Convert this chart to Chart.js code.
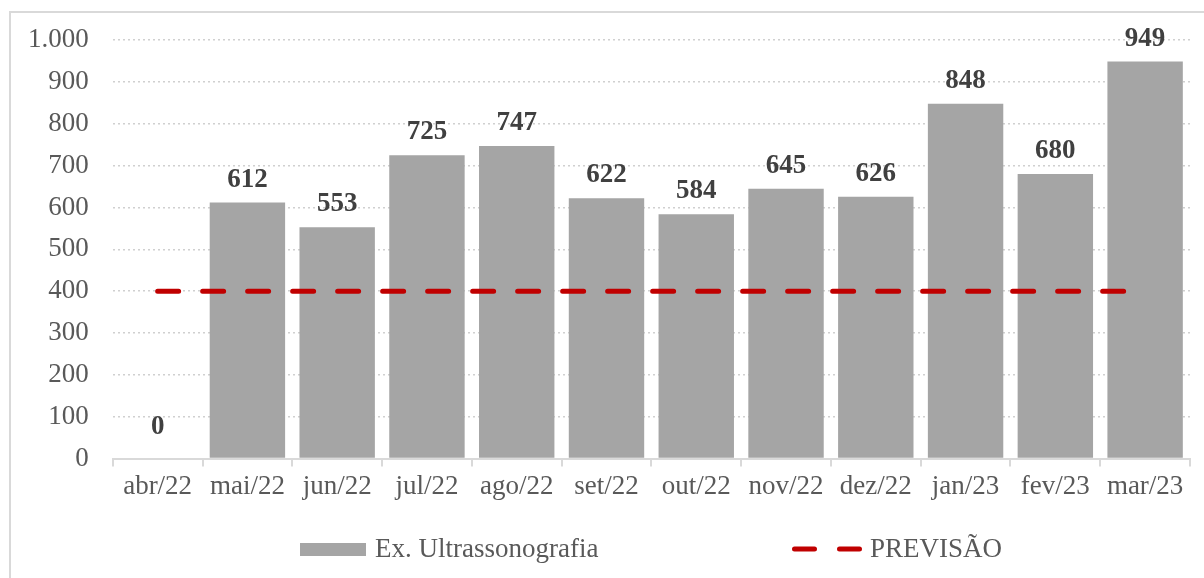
<!DOCTYPE html>
<html>
<head>
<meta charset="utf-8">
<script src="https://cdn.jsdelivr.net/npm/chart.js@4/dist/chart.umd.min.js"></script>
<style>
  html, body { margin: 0; padding: 0; background: #fff; overflow: hidden; }
  #frame { position: absolute; left: 9px; top: 11px; width: 1210px; height: 590px; border: 2px solid #d9d9d9; }
  #wrap { position: absolute; left: 0; top: 0; width: 1204px; height: 578px; }
</style>
</head>
<body>
<div id="frame"></div>
<div id="wrap"><canvas id="myChart"></canvas></div>
<script>
let months = ['abr/22', 'mai/22', 'jun/22', 'jul/22', 'ago/22', 'set/22', 'out/22', 'nov/22', 'dez/22', 'jan/23', 'fev/23', 'mar/23'];
let exames = [0, 612, 553, 725, 747, 622, 584, 645, 626, 848, 680, 949];
let previsao = [400, 400, 400, 400, 400, 400, 400, 400, 400, 400, 400, 400];

const serif = '"Liberation Serif", "Times New Roman", serif';

// value labels above the bars
const barLabels = {
    id: 'barLabels',
    afterDatasetsDraw(chart) {
        const ctx = chart.ctx;
        const meta = chart.getDatasetMeta(1);
        ctx.save();
        ctx.font = 'bold 27px ' + serif;
        ctx.fillStyle = '#404040';
        ctx.textAlign = 'center';
        ctx.textBaseline = 'alphabetic';
        meta.data.forEach((bar, i) => {
            let off = exames[i] === 0 ? 25 : 16;
            ctx.fillText(exames[i], bar.x, bar.y - off);
        });
        ctx.restore();
    }
};

// legend drawn by hand so the dashed line shows right
const bottomLegend = {
    id: 'bottomLegend',
    afterDraw(chart) {
        const ctx = chart.ctx;
        const y = 549;
        ctx.save();
        ctx.fillStyle = '#a5a5a5';
        ctx.fillRect(300, 543, 66, 13);
        ctx.font = '27px ' + serif;
        ctx.fillStyle = '#595959';
        ctx.textBaseline = 'alphabetic';
        ctx.fillText('Ex. Ultrassonografia', 375, 557);

        ctx.strokeStyle = '#c00000';
        ctx.lineWidth = 5;
        ctx.lineCap = 'round';
        ctx.beginPath();
        ctx.moveTo(794.5, y); ctx.lineTo(814.5, y);
        ctx.moveTo(839.5, y); ctx.lineTo(859.5, y);
        ctx.stroke();
        ctx.fillText('PREVISÃO', 870, 557);
        ctx.restore();
    }
};

let ct = document.getElementById('myChart').getContext('2d');

let myChart = new Chart(ct, {
    data: {
        labels: months,
        datasets: [
            {
                type: 'line',
                label: 'PREVISÃO',
                data: previsao,
                borderColor: '#c00000',
                borderWidth: 5,
                borderDash: [21, 24],
                borderCapStyle: 'round',
                pointRadius: 0,
                fill: false,
                order: 0
            },
            {
                type: 'bar',
                label: 'Ex. Ultrassonografia',
                data: exames,
                backgroundColor: '#a5a5a5',
                categoryPercentage: 1,
                barPercentage: 0.84,
                order: 1
            }
        ]
    },
    options: {
        responsive: true,
        maintainAspectRatio: false,
        animation: false,
        layout: {
            padding: { top: 39, right: 14, bottom: 71, left: 4 }
        },
        plugins: {
            legend: { display: false },
            tooltip: { enabled: false }
        },
        scales: {
            x: {
                offset: true,
                grid: {
                    drawOnChartArea: false,
                    drawTicks: true,
                    tickLength: 8,
                    color: '#d9d9d9',
                    lineWidth: 2,
                    offset: true
                },
                border: { display: true, color: '#d9d9d9', width: 2 },
                ticks: {
                    color: '#595959',
                    font: { family: serif, size: 27 },
                    padding: 4,
                    maxRotation: 0,
                    autoSkip: false
                }
            },
            y: {
                min: 0,
                max: 1000,
                ticks: {
                    stepSize: 100,
                    color: '#595959',
                    font: { family: serif, size: 27 },
                    padding: 24,
                    callback: v => v.toLocaleString('pt-BR')
                },
                grid: {
                    color: '#d0d0d0',
                    drawTicks: false,
                    lineWidth: 1.5
                },
                border: { display: false, dash: [2, 3] }
            }
        }
    },
    plugins: [barLabels, bottomLegend]
});
</script>
</body>
</html>
